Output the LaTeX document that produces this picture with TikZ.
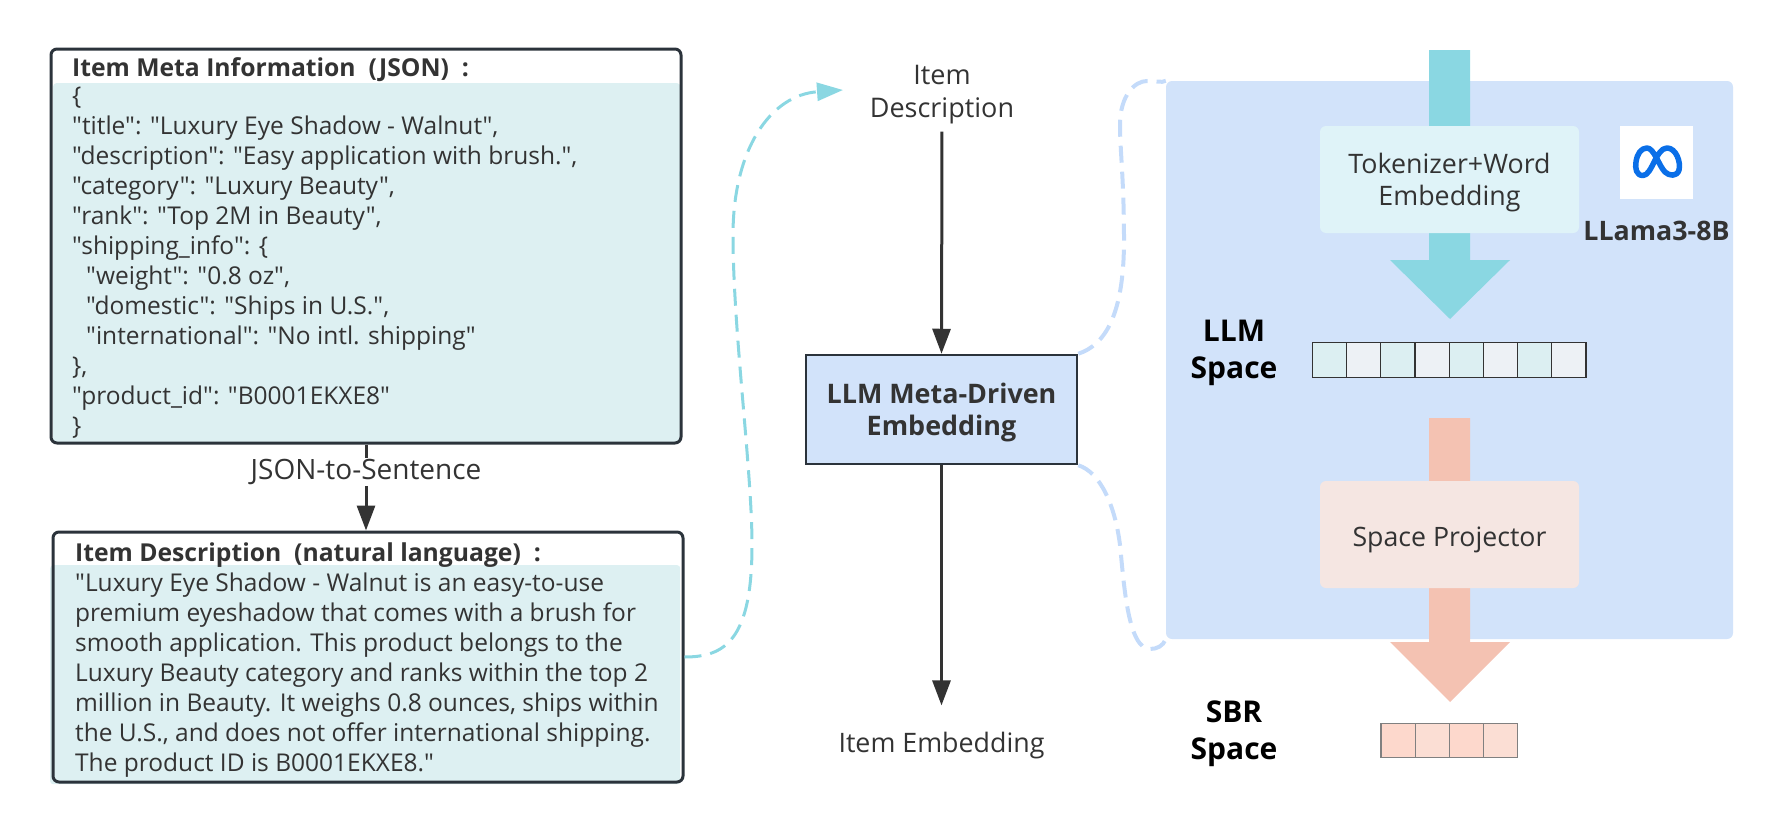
\documentclass[tikz,border=0pt]{standalone}
\usepackage{fontspec}
\setmainfont{Open Sans}
\newfontfamily\plainfont{Open Sans}
\usetikzlibrary{arrows.meta}
\definecolor{inkdark}{HTML}{333333}
\definecolor{framedark}{HTML}{2B333B}
\definecolor{tealbody}{HTML}{DDF0F2}
\definecolor{tealline}{HTML}{8AD7E2}
\definecolor{panelblue}{HTML}{D2E3FA}
\definecolor{paneldash}{HTML}{C4DBFA}
\definecolor{tokenbox}{HTML}{DFF3F8}
\definecolor{salmon}{HTML}{F4C2B2}
\definecolor{projbox}{HTML}{F5E6E2}
\definecolor{cellteal}{HTML}{DCEFF2}
\definecolor{cellgrey}{HTML}{EDF1F5}
\definecolor{cellpeach}{HTML}{FDD8CC}
\definecolor{cellpale}{HTML}{FBDED4}
\definecolor{metablue}{HTML}{0A6FE8}
\tikzset{
    bodytext/.style={text=inkdark,font=\plainfont\fontsize{24.5}{30}\selectfont,inner sep=0pt},
    headtext/.style={text=inkdark,font=\fontsize{24.7}{30}\selectfont\bfseries,inner sep=0pt,anchor=west},
    tealbodybox/.style={fill=tealbody,rounded corners=3pt,anchor=north west,align=left,inner sep=0pt},
    framebox/.style={draw=framedark,line width=3pt,rounded corners=6pt,inner sep=0pt},
    flow/.style={draw=inkdark,line width=3pt,-{Triangle[length=25pt,width=18pt]}},
    softbox/.style={rounded corners=6pt,minimum width=259pt,minimum height=107pt,inner sep=0pt,align=center},
    spacetext/.style={text=black,font=\fontsize{30}{37}\selectfont\bfseries,align=center,inner sep=0pt},
    cell/.style={draw=#1,line width=1.2pt,minimum width=34.2pt,minimum height=34.5pt,inner sep=0pt}
}
\begin{document}
\begin{tikzpicture}[x=1pt,y=-1pt]
    \useasboundingbox (0,0) rectangle (1783,835);
    % left column
    \node[tealbodybox,minimum width=627pt,minimum height=359pt] (jsonbody) at (53,83) {};
    \node[framebox,minimum width=630pt,minimum height=394pt] (jsonbox) at (366,246) {};
    \node[headtext] (jsonhead) at (72,69.5) {Item Meta Information\ \ (JSON)\ \ :};
    \node[bodytext,anchor=north west,align=left] (jsontext) at (72,87) {\{\\
        "title": "Luxury Eye Shadow - Walnut",\\
        "description": "Easy application with brush.",\\
        "category": "Luxury Beauty",\\
        "rank": "Top 2M in Beauty",\\
        "shipping\_info": \{\\
        \hspace*{14pt}"weight": "0.8 oz",\\
        \hspace*{14pt}"domestic": "Ships in U.S.",\\
        \hspace*{14pt}"international": "No intl. shipping"\\
        \},\\
        "product\_id": "B0001EKXE8"\\
        \}};
    \node[tealbodybox,minimum width=630pt,minimum height=219pt] (descbody) at (50,565) {};
    \node[framebox,minimum width=630pt,minimum height=250pt] (descbox) at (368,657) {};
    \node[headtext] (deschead) at (75,555.5) {Item Description\ \ (natural language)\ \ :};
    \node[bodytext,anchor=north west,align=left] (desctext) at (75,573) {"Luxury Eye Shadow - Walnut is an easy-to-use\\
        premium eyeshadow that comes with a brush for\\
        smooth application. This product belongs to the\\
        Luxury Beauty category and ranks within the top 2\\
        million in Beauty. It weighs 0.8 ounces, ships within\\
        the U.S., and does not offer international shipping.\\
        The product ID is B0001EKXE8."};
    \node[bodytext,font=\fontsize{28}{34}\selectfont,inner ysep=1pt] (jsonlabel) at (366,472) {JSON-to-Sentence};
    \draw[draw=inkdark,line width=3pt] (jsonbox.south) -- (jsonlabel.north -| jsonbox.south);
    \draw[flow] (jsonlabel.south) -- (jsonlabel.south |- descbox.north);
    % middle column
    \node[bodytext,align=center,font=\fontsize{27}{33}\selectfont] (itemdesc) at (942,95) {Item\\Description};
    \node[draw=framedark,line width=2.5pt,fill=panelblue,minimum width=271pt,minimum height=109pt,inner sep=0pt,align=center] (embedbox) at (941.5,409.5) {};
    \node[text=inkdark,font=\fontsize{26.9}{32}\selectfont\bfseries,align=center,inner sep=0pt] (embedtext) at (941.5,412.5) {LLM Meta-Driven\\Embedding};
    \node[bodytext,font=\fontsize{26.8}{32}\selectfont] (itememb) at (941.5,746) {Item Embedding};
    \draw[flow,shorten <=7pt] (itemdesc.south) -- (embedbox.north);
    \draw[flow,shorten >=27pt] (embedbox.south) -- (itememb.north);
    \coordinate (teallink) at (843,90);
    \draw[tealline,line width=3pt,dash pattern=on 17pt off 9pt,-{Triangle[length=26pt,width=18pt]}]
        (descbox.east |- 0,657) .. controls (725,657) and (752,640) .. (752,545)
        .. controls (752,470) and (733,330) .. (733,235)
        .. controls (733,150) and (770,95) .. (teallink);
    % right panel
    \node[fill=panelblue,rounded corners=6pt,minimum width=567pt,minimum height=558pt,inner sep=0pt] (panel) at (1449.5,360) {};
    \draw[paneldash,line width=4pt,dash pattern=on 17pt off 9pt] (embedbox.north east)
        .. controls (1105,345) and (1124,315) .. (1124,240)
        .. controls (1124,180) and (1120,150) .. (1120,125)
        .. controls (1120,95) and (1135,81) .. (1147,81)
        .. controls (1155,81) and (1162,83) .. (panel.north west);
    \draw[paneldash,line width=4pt,dash pattern=on 17pt off 9pt] (embedbox.south east)
        .. controls (1100,472) and (1115,505) .. (1120,545)
        .. controls (1124,585) and (1128,649) .. (1150,649)
        .. controls (1157,649) and (1163,646) .. (panel.south west);
    \foreach \ytop/\yneck/\ytip/\i in {50/260/319/tealline,418/642/702/salmon}{
        \fill[\i] (1429,\ytop) -- (1470,\ytop) -- (1470,\yneck) -- (1510,\yneck) -- (1450,\ytip) -- (1390,\yneck) -- (1429,\yneck) -- cycle;
    }
    \node[softbox,fill=tokenbox] (tokenizer) at (1449.5,179.5) {};
    \node[text=inkdark,font=\fontsize{26.8}{32}\selectfont,align=center,inner sep=0pt] (tokentext) at (1449.5,183) {Tokenizer+Word\\Embedding};
    \node[softbox,fill=projbox] (projector) at (1449.5,534.5) {};
    \node[text=inkdark,font=\fontsize{26.7}{32}\selectfont,inner sep=0pt] (projtext) at (1449.5,539.5) {Space Projector};
    % logo
    \fill[white] (1620,126) rectangle (1693,199);
    \draw[metablue,line width=5.5pt,line join=round] (1643,175.5)
        .. controls (1636,175.5) and (1635,168) .. (1636,162)
        .. controls (1637,154) and (1641,148) .. (1647,148)
        .. controls (1654,148) and (1659,166) .. (1665,172)
        .. controls (1669,176) and (1677,177) .. (1679,170)
        .. controls (1681,162) and (1676,148) .. (1667,148)
        .. controls (1656,148) and (1652,175.5) .. (1643,175.5) -- cycle;
    \node[text=inkdark,font=\fontsize{26.8}{32}\selectfont\bfseries,inner sep=0pt] (llama) at (1656.5,230.5) {LLama3-8B};
    \node[spacetext] (llmspace) at (1234,353) {LLM\\Space};
    \node[spacetext] (sbrspace) at (1234,734) {SBR\\Space};
    \foreach \k/\i in {0/cellteal,1/cellgrey,2/cellteal,3/cellgrey,4/cellteal,5/cellgrey,6/cellteal,7/cellgrey}{
        \node[cell=inkdark,fill=\i] (llmcell\k) at (1329.5+34.2*\k,360) {};
    }
    \foreach \k/\i in {0/cellpeach,1/cellpale,2/cellpeach,3/cellpale}{
        \node[cell=gray,fill=\i] (sbrcell\k) at (1398+34.2*\k,740.5) {};
    }
\end{tikzpicture}
\end{document}
